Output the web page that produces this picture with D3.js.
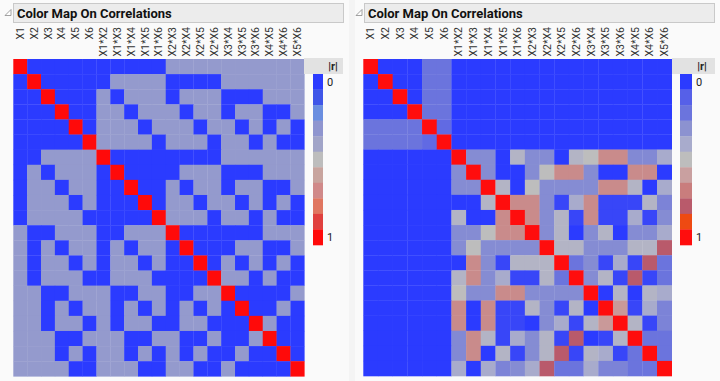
<!DOCTYPE html>
<html>
<head>
<meta charset="utf-8">
<script src="https://cdn.jsdelivr.net/npm/d3@7"></script>
<style>
  body { margin: 0; background: #f4f4f4; }
  svg { display: block; font-family: Roboto, "Liberation Sans", sans-serif; }
</style>
</head>
<body>
<svg id="chart" width="720" height="381"></svg>
<script>
var terms = ["X1", "X2", "X3", "X4", "X5", "X6",
  "X1*X2", "X1*X3", "X1*X4", "X1*X5", "X1*X6", "X2*X3", "X2*X4", "X2*X5", "X2*X6",
  "X3*X4", "X3*X5", "X3*X6", "X4*X5", "X4*X6", "X5*X6"];

// |r| (blue = 0, lavender ~ 1/3, red = 1)
var leftCorr = [
  [1, 0, 0, 0, 0, 0, 0, 0, 0, 0, 0, .33, .33, .33, .33, .33, .33, .33, .33, .33, .33],
  [0, 1, 0, 0, 0, 0, 0, .33, .33, .33, .33, 0, 0, 0, 0, .33, .33, .33, .33, .33, .33],
  [0, 0, 1, 0, 0, 0, .33, 0, .33, .33, .33, 0, .33, .33, .33, 0, 0, 0, .33, .33, .33],
  [0, 0, 0, 1, 0, 0, .33, .33, 0, .33, .33, .33, 0, .33, .33, 0, .33, .33, 0, 0, .33],
  [0, 0, 0, 0, 1, 0, .33, .33, .33, 0, .33, .33, .33, 0, .33, .33, 0, .33, 0, .33, 0],
  [0, 0, 0, 0, 0, 1, .33, .33, .33, .33, 0, .33, .33, .33, 0, .33, .33, 0, .33, 0, 0],
  [0, 0, .33, .33, .33, .33, 1, 0, 0, 0, 0, 0, 0, 0, 0, .33, .33, .33, .33, .33, .33],
  [0, .33, 0, .33, .33, .33, 0, 1, 0, 0, 0, 0, .33, .33, .33, 0, 0, 0, .33, .33, .33],
  [0, .33, .33, 0, .33, .33, 0, 0, 1, 0, 0, .33, 0, .33, .33, 0, .33, .33, 0, 0, .33],
  [0, .33, .33, .33, 0, .33, 0, 0, 0, 1, 0, .33, .33, 0, .33, .33, 0, .33, 0, .33, 0],
  [0, .33, .33, .33, .33, 0, 0, 0, 0, 0, 1, .33, .33, .33, 0, .33, .33, 0, .33, 0, 0],
  [.33, 0, 0, .33, .33, .33, 0, 0, .33, .33, .33, 1, 0, 0, 0, 0, 0, 0, .33, .33, .33],
  [.33, 0, .33, 0, .33, .33, 0, .33, 0, .33, .33, 0, 1, 0, 0, 0, .33, .33, 0, 0, .33],
  [.33, 0, .33, .33, 0, .33, 0, .33, .33, 0, .33, 0, 0, 1, 0, .33, 0, .33, 0, .33, 0],
  [.33, 0, .33, .33, .33, 0, 0, .33, .33, .33, 0, 0, 0, 0, 1, .33, .33, 0, .33, 0, 0],
  [.33, .33, 0, 0, .33, .33, .33, 0, 0, .33, .33, 0, 0, .33, .33, 1, 0, 0, 0, 0, .33],
  [.33, .33, 0, .33, 0, .33, .33, 0, .33, 0, .33, 0, .33, 0, .33, 0, 1, 0, 0, .33, 0],
  [.33, .33, 0, .33, .33, 0, .33, 0, .33, .33, 0, 0, .33, .33, 0, 0, 0, 1, .33, 0, 0],
  [.33, .33, .33, 0, 0, .33, .33, .33, 0, 0, .33, .33, 0, 0, .33, 0, 0, .33, 1, 0, 0],
  [.33, .33, .33, 0, .33, 0, .33, .33, 0, .33, 0, .33, 0, .33, 0, 0, .33, 0, 0, 1, 0],
  [.33, .33, .33, .33, 0, 0, .33, .33, .33, 0, 0, .33, .33, 0, 0, .33, 0, 0, 0, 0, 1]
];

// |r|
var rightCorr = [
  [1, 0, 0, 0, .2, .2, 0, 0, 0, 0, 0, 0, 0, 0, 0, 0, 0, 0, 0, 0, 0],
  [0, 1, 0, 0, .2, .2, 0, 0, 0, 0, 0, 0, 0, 0, 0, 0, 0, 0, 0, 0, 0],
  [0, 0, 1, 0, .2, .2, 0, 0, 0, 0, 0, 0, 0, 0, 0, 0, 0, 0, 0, 0, 0],
  [0, 0, 0, 1, .2, .2, 0, 0, 0, 0, 0, 0, 0, 0, 0, 0, 0, 0, 0, 0, 0],
  [.2, .2, .2, .2, 1, .15, 0, 0, 0, 0, 0, 0, 0, 0, 0, 0, 0, 0, 0, 0, 0],
  [.2, .2, .2, .2, .15, 1, 0, 0, 0, 0, 0, 0, 0, 0, 0, 0, 0, 0, 0, 0, 0],
  [0, 0, 0, 0, 0, 0, 1, .28, .28, 0, .45, .28, .28, 0, .45, .5, .66, .66, .27, .27, .4],
  [0, 0, 0, 0, 0, 0, .28, 1, .28, 0, 0, .28, .5, .66, .66, .28, 0, 0, .66, .66, 0],
  [0, 0, 0, 0, 0, 0, .28, .28, 1, .45, 0, .5, .28, .28, .28, .28, .66, .66, .45, 0, .4],
  [0, 0, 0, 0, 0, 0, 0, 0, .45, 1, .66, .66, .28, .03, .4, .66, .03, .03, .03, .45, .25],
  [0, 0, 0, 0, 0, 0, .45, 0, 0, .66, 1, .66, .28, .45, .03, .66, .03, .03, .4, .03, .28],
  [0, 0, 0, 0, 0, 0, .28, .28, .5, .66, .66, 1, .28, .45, 0, .28, .45, 0, .28, .28, .4],
  [0, 0, 0, 0, 0, 0, .28, .5, .28, .28, .28, .28, 1, .45, .45, .28, .28, .28, .45, .45, .8],
  [0, 0, 0, 0, 0, 0, 0, .66, .28, .03, .45, .45, .45, 1, .2, .28, .03, .4, .03, .8, .2],
  [0, 0, 0, 0, 0, 0, .45, .66, .28, .4, .03, .03, .45, .2, 1, .28, .45, .03, .8, .03, .2],
  [0, 0, 0, 0, 0, 0, .5, .28, .28, .66, .66, .28, .28, .28, .28, 1, 0, .45, 0, .45, .4],
  [0, 0, 0, 0, 0, 0, .66, 0, .66, .03, .03, .45, .28, .03, .45, 0, 1, .62, .03, .4, .25],
  [0, 0, 0, 0, 0, 0, .66, 0, .66, .03, .03, 0, .28, .4, .03, .45, .62, 1, .45, .03, .25],
  [0, 0, 0, 0, 0, 0, .27, .66, .45, .03, .4, .28, .45, .03, .8, 0, .03, .45, 1, .2, .2],
  [0, 0, 0, 0, 0, 0, .27, .66, 0, .45, .03, .28, .45, .8, .03, .45, .4, .03, .2, 1, .2],
  [0, 0, 0, 0, 0, 0, .4, 0, .4, .25, .28, .4, .8, .2, .2, .4, .25, .25, .2, .2, 1]
];

var legendStops = [0, .1, .2, .3, .4, .5, .6, .7, .8, .9, 1];
var leftLegendColors = ["#2b3bff", "#3f56e8", "#6a8ee0", "#8f95cf", "#a1a4c8", "#bdbdbd",
  "#c8a49e", "#d08989", "#e07660", "#e0403e", "#ff0a0a"];
var rightLegendColors = ["#2b3bff", "#5660e8", "#6b74dd", "#8c92d0", "#a8abcc", "#bdbdbd",
  "#c9a0a0", "#c97d7d", "#b95a6b", "#ee4a12", "#ff0d0d"];
var legendTicks = ["0", "1"];

var svg = d3.select("#chart");

function drawPanel(p) {
  var g = svg.append("g");

  // panel background
  g.append("rect")
    .attr("x", p.bx).attr("y", 0)
    .attr("width", p.bw).attr("height", 381)
    .attr("fill", "#fafafa");

  // title bar
  g.append("rect")
    .attr("x", p.tx + 0.5).attr("y", 3.5)
    .attr("width", p.tw).attr("height", 19)
    .attr("fill", "#ececec").attr("stroke", "#c9c9c9");
  g.append("path")
    .attr("d", "M" + (p.tx - 8) + ",15.5 h6 v-6 z")
    .attr("fill", "#fff").attr("stroke", "#8a8a8a").attr("stroke-width", 0.8);
  g.append("text")
    .attr("x", p.tx + 4).attr("y", 18)
    .attr("font-size", "13px").attr("font-weight", "bold")
    .attr("fill", "#111")
    .text("Color Map On Correlations");

  var x = d3.scaleBand().domain(terms).range([p.gx, p.gx + p.gw]);
  var y = d3.scaleBand().domain(terms).range([p.gy, p.gy + p.gh]);
  var color = d3.scaleLinear().domain(legendStops).range(p.colors);

  // column labels, rotated and aligned at the top
  g.selectAll(".col")
    .data(terms)
    .enter()
    .append("text")
    .attr("transform", d => "translate(" + (x(d) + x.bandwidth() / 2) + ",27) rotate(-90)")
    .attr("dy", "0.35em")
    .attr("text-anchor", "end")
    .attr("font-size", "10.5px")
    .attr("fill", "#333")
    .text(d => d);

  var cells = [];
  p.data.forEach(function (row, i) {
    row.forEach(function (v, j) {
      cells.push({ r: terms[i], c: terms[j], v: v });
    });
  });

  g.selectAll(".cell")
    .data(cells)
    .enter()
    .append("rect")
    .attr("x", d => x(d.c))
    .attr("y", d => y(d.r))
    .attr("width", x.bandwidth() + 0.3)
    .attr("height", y.bandwidth() + 0.3)
    .attr("fill", d => color(d.v));

  // legend
  g.append("rect")
    .attr("x", p.hx).attr("y", 58)
    .attr("width", p.hw).attr("height", 16)
    .attr("fill", "#e2e2e2");
  g.append("text")
    .attr("x", p.lx + p.sw + 10).attr("y", 70)
    .attr("text-anchor", "middle")
    .attr("font-size", "11px").attr("font-weight", "bold")
    .attr("fill", "#222")
    .text("|r|");

  var ly = d3.scaleBand().domain(legendStops).range([74, 245]);
  g.selectAll(".sw")
    .data(legendStops)
    .enter()
    .append("rect")
    .attr("x", p.lx)
    .attr("y", d => ly(d))
    .attr("width", p.sw)
    .attr("height", ly.bandwidth() + 0.3)
    .attr("fill", (d, i) => p.colors[i]);

  g.selectAll(".lt")
    .data(legendTicks)
    .enter()
    .append("text")
    .attr("x", p.lx + p.sw + 4)
    .attr("y", d => ly(+d) + ly.bandwidth() / 2)
    .attr("dy", "0.38em")
    .attr("font-size", "11px")
    .attr("fill", "#222")
    .text(d => d);
}

drawPanel({ bx: 0, bw: 349, tx: 13, tw: 330, gx: 13.3, gy: 59, gw: 291, gh: 317.3,
  hx: 304, hw: 39, lx: 313, sw: 10, data: leftCorr, colors: leftLegendColors });
drawPanel({ bx: 355, bw: 365, tx: 364, tw: 350, gx: 363.3, gy: 59, gw: 308.4, gh: 317,
  hx: 672, hw: 43, lx: 680, sw: 12, data: rightCorr, colors: rightLegendColors });
</script>
</body>
</html>
